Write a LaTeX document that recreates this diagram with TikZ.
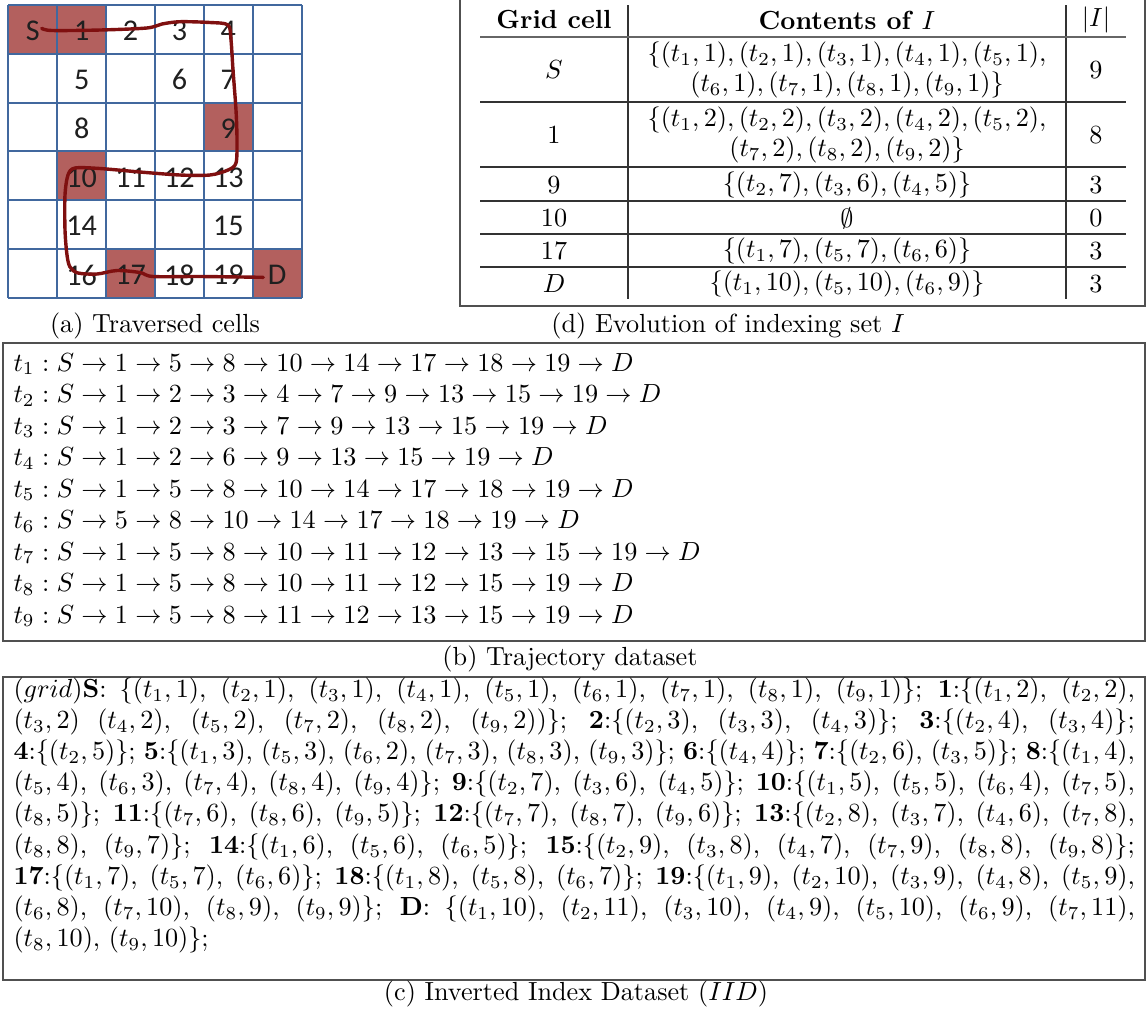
\documentclass[tikz,border=0pt]{standalone}
\usepackage{fontspec}
\newfontfamily\calfont{Carlito}
\definecolor{gridblue}{HTML}{41689E}
\definecolor{cellred}{HTML}{B3605E}
\definecolor{pathred}{HTML}{7F1010}
\definecolor{framegray}{HTML}{505050}
\newcommand\tp[2]{$(t_{#1},#2)$}
\newcommand\iidline[1]{\hbox to 428pt{#1}}
\begin{document}
\begin{tikzpicture}[x=0.3817pt,y=-0.3817pt,
  every node/.style={font=\fontsize{10}{12}\selectfont},
  celllabel/.style={font=\calfont\fontsize{11.5}{12}\selectfont, text=black!88, inner sep=0pt},
  boxframe/.style={draw=framegray, line width=0.75pt},
  tabrule/.style={draw=black!80, line width=0.45pt},
  txtnode/.style={anchor=west, inner sep=0pt},
  capnode/.style={inner sep=0pt},
  twoline/.style={inner sep=0pt, align=center, font=\fontsize{10}{11.6}\selectfont}]
\useasboundingbox (0,0) rectangle (1147,1013);

% ---------- (a) grid ----------
\foreach \c/\r in {0/0,1/0,4/2,1/3,2/5,5/5}
  \fill[cellred] (8.3+48.9*\c,5+48.8*\r) rectangle ++(48.9,48.8);
\foreach \i in {0,...,6} {
  \draw[gridblue, line width=0.8pt] (8.3+48.9*\i,5) -- (8.3+48.9*\i,297.8);
  \draw[gridblue, line width=0.8pt] (8.3,5+48.8*\i) -- (301.7,5+48.8*\i);
}
\foreach \c/\r/\t/\n in {0/0/S/gS,1/0/1/g1,2/0/2/g2,3/0/3/g3,4/0/4/g4,
  1/1/5/g5,3/1/6/g6,4/1/7/g7,1/2/8/g8,4/2/9/g9,
  1/3/10/g10,2/3/11/g11,3/3/12/g12,4/3/13/g13,1/4/14/g14,4/4/15/g15,
  1/5/16/g16,2/5/17/g17,3/5/18/g18,4/5/19/g19,5/5/D/gD}
  \node[celllabel] (\n) at (8.3+48.9*\c+24.45,5+48.8*\r+26) {\t};
\draw[pathred, line width=1.3pt, line cap=round, line join=round]
  plot[smooth, tension=0.5] coordinates {(41.7,28.3) (52,30.5) (100,30) (146.7,28)
  (162,24) (180,21.7) (210,22.5) (228,25) (231,40) (233,70) (236,110) (237,140)
  (236,163) (228,170) (210,175) (180,175) (140,172) (100,168.5) (75,168) (68,175)
  (65,195) (65,230) (67,255) (70,267) (78,273) (97,274) (117,270.5) (140,272.5)
  (153,276.5) (200,276.5) (263.3,277.3)};
\node[capnode] (capa) at (155,326) {(a) Traversed cells};

% ---------- (d) table ----------
\draw[boxframe] (460,-5) -- (460,306) -- (1145,306) -- (1145,-5);
\draw[tabrule] (628,5) -- (628,299);
\draw[tabrule] (1066,5) -- (1066,299);
\draw[draw=black!60, line width=0.8pt] (480,37) -- (1126,37);
\foreach \y in {102,167,201,234,267}
  \draw[tabrule] (480,\y) -- (1126,\y);
\node[capnode] (h1) at (554,20) {\textbf{Grid cell}};
\node[capnode] (h2) at (847,20) {\textbf{Contents of} $I$};
\node[capnode] (h3) at (1096,20) {$|I|$};
\node[capnode] (rS) at (554,70) {$S$};
\node[twoline] (cS) at (847,70) {$\{(t_1,1),(t_2,1),(t_3,1),(t_4,1),(t_5,1),$\\$(t_6,1),(t_7,1),(t_8,1),(t_9,1)\}$};
\node[capnode] (nS) at (1096,70) {9};
\node[capnode] (r1) at (554,135) {1};
\node[twoline] (c1) at (847,135) {$\{(t_1,2),(t_2,2),(t_3,2),(t_4,2),(t_5,2),$\\$(t_7,2),(t_8,2),(t_9,2)\}$};
\node[capnode] (n1) at (1096,135) {8};
\node[capnode] (r9) at (554,185) {9};
\node[capnode] (c9) at (847,185) {$\{(t_2,7),(t_3,6),(t_4,5)\}$};
\node[capnode] (n9) at (1096,185) {3};
\node[capnode] (r10) at (554,218) {10};
\node[capnode] (c10) at (847,218) {$\emptyset$};
\node[capnode] (n10) at (1096,218) {0};
\node[capnode] (r17) at (554,251) {17};
\node[capnode] (c17) at (847,251) {$\{(t_1,7),(t_5,7),(t_6,6)\}$};
\node[capnode] (n17) at (1096,251) {3};
\node[capnode] (rD) at (554,284) {$D$};
\node[capnode] (cD) at (847,284) {$\{(t_1,10),(t_5,10),(t_6,9)\}$};
\node[capnode] (nD) at (1096,284) {3};
\node[capnode] (capd) at (728,326) {(d) Evolution of indexing set $I$};

% ---------- (b) trajectories ----------
\draw[boxframe] (3,343) rectangle (1145,641);
\node[txtnode] (t1) at (13,364) {$t_1 : S \rightarrow 1 \rightarrow 5 \rightarrow 8 \rightarrow 10 \rightarrow 14 \rightarrow 17 \rightarrow 18 \rightarrow 19 \rightarrow D$};
\node[txtnode] (t2) at (13,395.5) {$t_2 : S \rightarrow 1 \rightarrow 2 \rightarrow 3 \rightarrow 4 \rightarrow 7 \rightarrow 9 \rightarrow 13 \rightarrow 15 \rightarrow 19 \rightarrow D$};
\node[txtnode] (t3) at (13,427) {$t_3 : S \rightarrow 1 \rightarrow 2 \rightarrow 3 \rightarrow 7 \rightarrow 9 \rightarrow 13 \rightarrow 15 \rightarrow 19 \rightarrow D$};
\node[txtnode] (t4) at (13,458.5) {$t_4 : S \rightarrow 1 \rightarrow 2 \rightarrow 6 \rightarrow 9 \rightarrow 13 \rightarrow 15 \rightarrow 19 \rightarrow D$};
\node[txtnode] (t5) at (13,490) {$t_5 : S \rightarrow 1 \rightarrow 5 \rightarrow 8 \rightarrow 10 \rightarrow 14 \rightarrow 17 \rightarrow 18 \rightarrow 19 \rightarrow D$};
\node[txtnode] (t6) at (13,521.5) {$t_6 : S \rightarrow 5 \rightarrow 8 \rightarrow 10 \rightarrow 14 \rightarrow 17 \rightarrow 18 \rightarrow 19 \rightarrow D$};
\node[txtnode] (t7) at (13,553) {$t_7 : S \rightarrow 1 \rightarrow 5 \rightarrow 8 \rightarrow 10 \rightarrow 11 \rightarrow 12 \rightarrow 13 \rightarrow 15 \rightarrow 19 \rightarrow D$};
\node[txtnode] (t8) at (13,584.5) {$t_8 : S \rightarrow 1 \rightarrow 5 \rightarrow 8 \rightarrow 10 \rightarrow 11 \rightarrow 12 \rightarrow 15 \rightarrow 19 \rightarrow D$};
\node[txtnode] (t9) at (13,616) {$t_9 : S \rightarrow 1 \rightarrow 5 \rightarrow 8 \rightarrow 11 \rightarrow 12 \rightarrow 13 \rightarrow 15 \rightarrow 19 \rightarrow D$};
\node[capnode] (capb) at (570,659) {(b) Trajectory dataset};

% ---------- (c) inverted index ----------
\draw[boxframe] (3,677) rectangle (1145,980);
\node[txtnode] (i1) at (13,691) {\iidline{$(grid)$\textbf{S}: $\{$\tp11, \tp21, \tp31, \tp41, \tp51, \tp61, \tp71, \tp81, \tp91$\}$; \textbf{1}:$\{$\tp12, \tp22,}};
\node[txtnode] (i2) at (13,722.1) {\iidline{\tp32 \tp42, \tp52, \tp72, \tp82, $(t_9,2))\}$; \textbf{2}:$\{$\tp23, \tp33, \tp43$\}$; \textbf{3}:$\{$\tp24, \tp34$\}$;}};
\node[txtnode] (i3) at (13,753.2) {\iidline{\textbf{4}:$\{$\tp25$\}$; \textbf{5}:$\{$\tp13, \tp53, \tp62, \tp73, \tp83, \tp93$\}$; \textbf{6}:$\{$\tp44$\}$; \textbf{7}:$\{$\tp26, \tp35$\}$; \textbf{8}:$\{$\tp14,}};
\node[txtnode] (i4) at (13,784.3) {\iidline{\tp54, \tp63, \tp74, \tp84, \tp94$\}$; \textbf{9}:$\{$\tp27, \tp36, \tp45$\}$; \textbf{10}:$\{$\tp15, \tp55, \tp64, \tp75,}};
\node[txtnode] (i5) at (13,815.4) {\iidline{\tp85$\}$; \textbf{11}:$\{$\tp76, \tp86, \tp95$\}$; \textbf{12}:$\{$\tp77, \tp87, \tp96$\}$; \textbf{13}:$\{$\tp28, \tp37, \tp46, \tp78,}};
\node[txtnode] (i6) at (13,846.5) {\iidline{\tp88, \tp97$\}$; \textbf{14}:$\{$\tp16, \tp56, \tp65$\}$; \textbf{15}:$\{$\tp29, \tp38, \tp47, \tp79, \tp88, \tp98$\}$;}};
\node[txtnode] (i7) at (13,877.6) {\iidline{\textbf{17}:$\{$\tp17, \tp57, \tp66$\}$; \textbf{18}:$\{$\tp18, \tp58, \tp67$\}$; \textbf{19}:$\{$\tp19, \tp2{10}, \tp39, \tp48, \tp59,}};
\node[txtnode] (i8) at (13,908.7) {\iidline{\tp68, \tp7{10}, \tp89, \tp99$\}$; \textbf{D}: $\{$\tp1{10}, \tp2{11}, \tp3{10}, \tp49, \tp5{10}, \tp69, \tp7{11},}};
\node[txtnode] (i9) at (13,939.8) {\tp8{10}, \tp9{10}$\}$;};
\node[capnode] (capc) at (576,994) {(c) Inverted Index Dataset ($IID$)};
\end{tikzpicture}
\end{document}
